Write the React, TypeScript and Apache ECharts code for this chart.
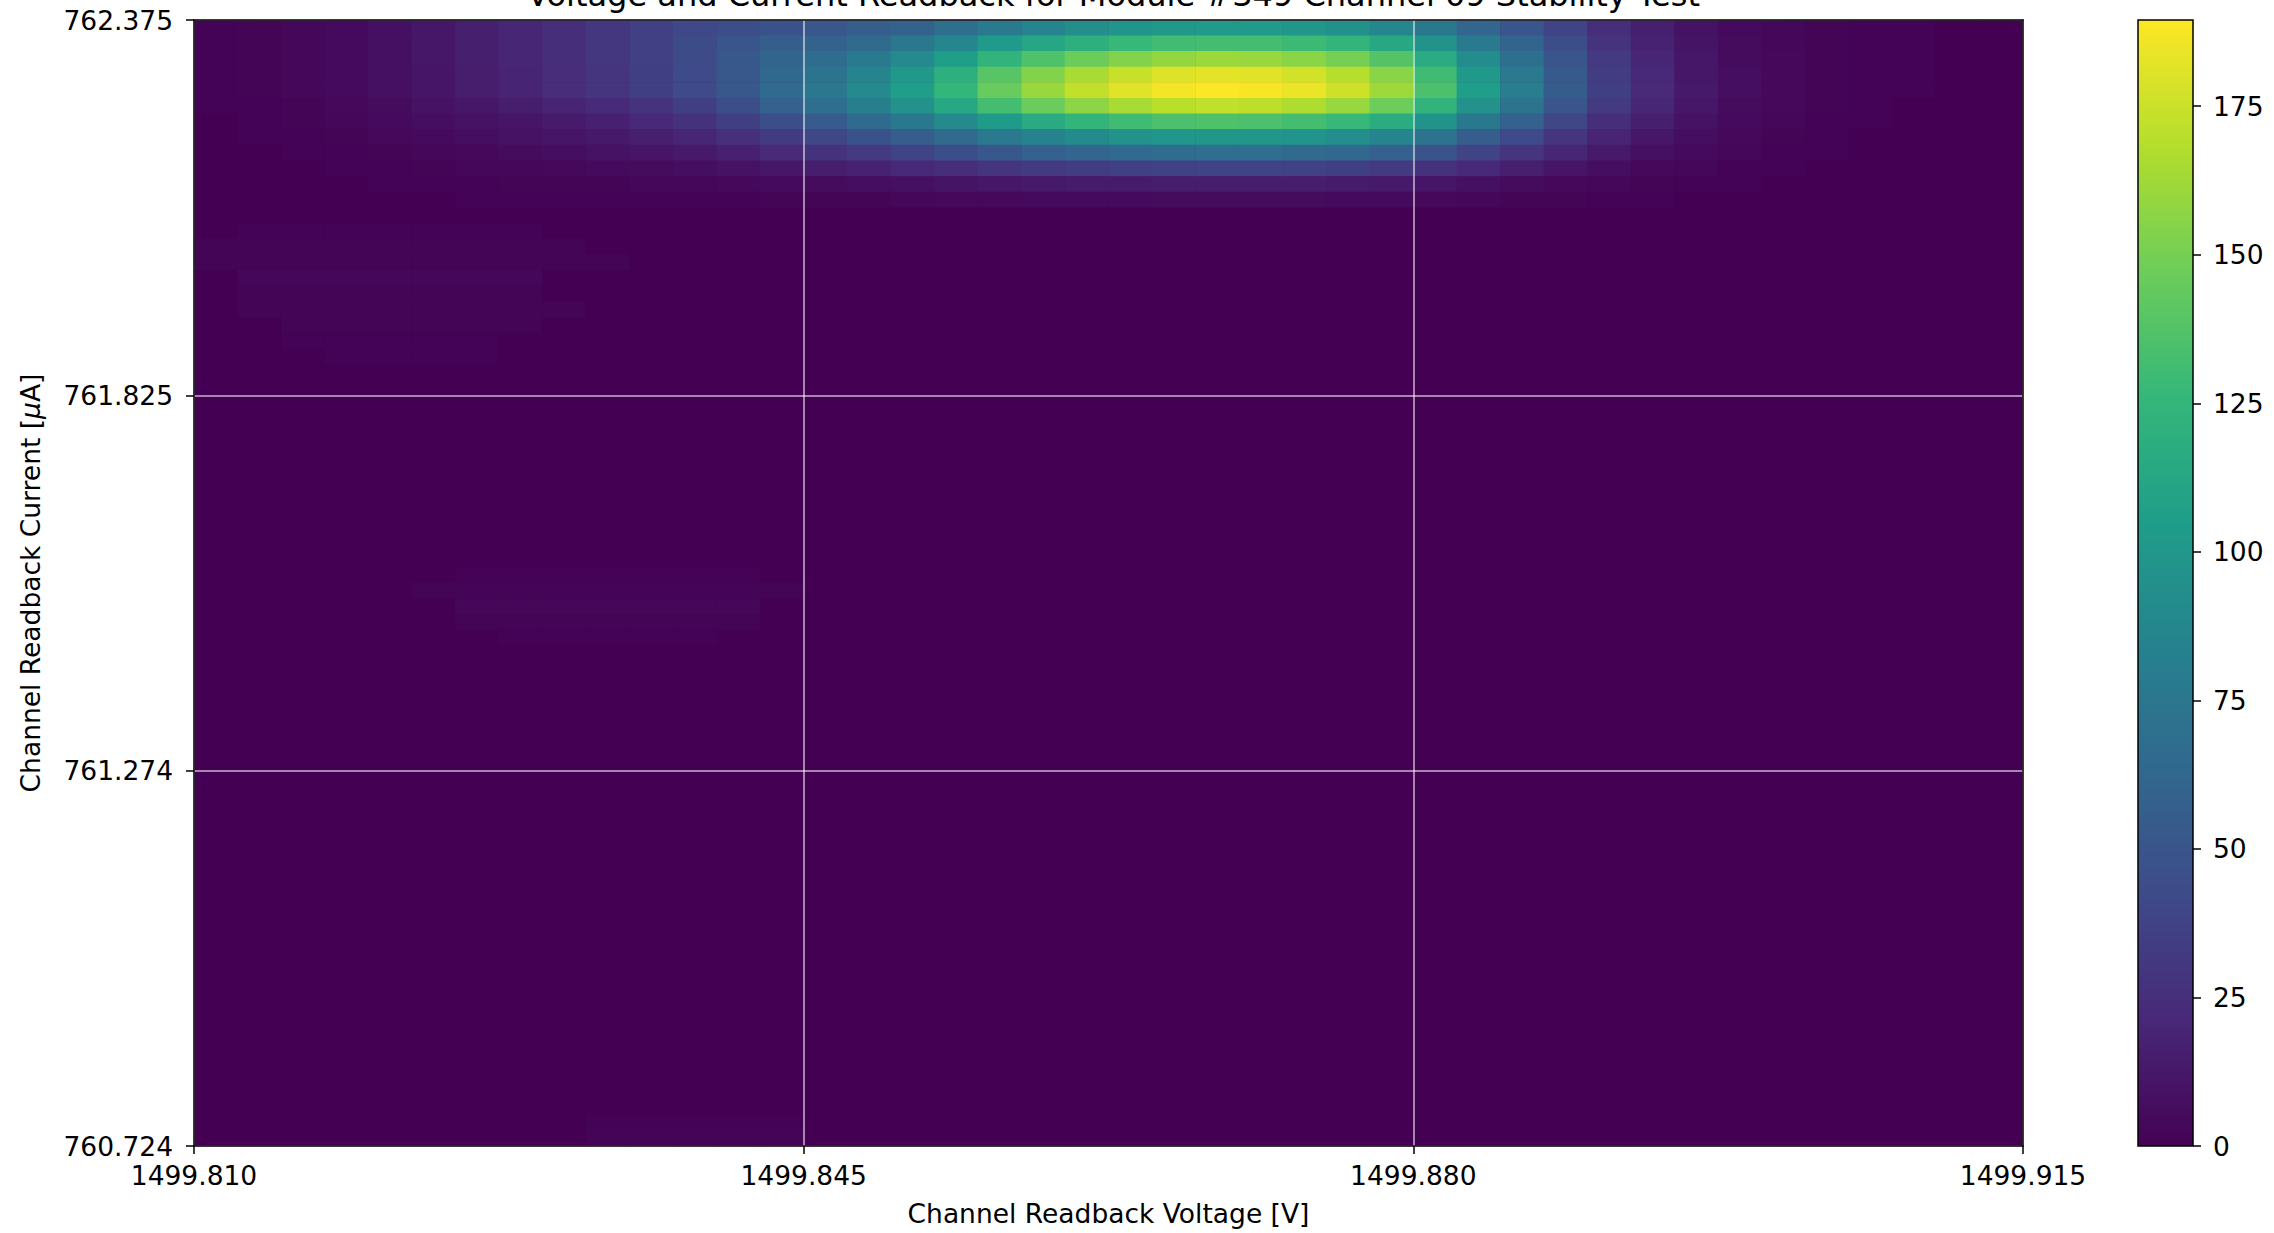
import React, { useEffect, useRef } from "react";
import * as echarts from "echarts";

const TITLE = "Voltage and Current Readback for Module #349 Channel 09 Stability Test";
const X_NAME = "Channel Readback Voltage [V]";
const Y_NAME = "Channel Readback Current [{mu|μ}A]";
const X_TICK_LABELS = ["1499.810", "1499.845", "1499.880", "1499.915"];
const Y_TICK_LABELS = ["760.724", "761.274", "761.825", "762.375"];
const CBAR_TICKS = [0, 25, 50, 75, 100, 125, 150, 175];
const COLOR_MAX = 189.5;
const N_COLS = 42;
const N_ROWS = 72;

const VIRIDIS = ["#440154", "#482878", "#3E4A89", "#31688E", "#26828E", "#1F9E89", "#35B779", "#6DCD59", "#B4DE2C", "#FDE725"];

// density rows, top of plot downward (42 voltage bins each)
const row00 = [1,2,3,5,8,12,16,20,25,30,36,41,45,48,51,56,60,69,78,86,93,98,101,102,102,99,95,87,76,62,50,38,25,16,9,5,3,2,1,1,0,0];
const row01 = [1,2,3,5,8,12,16,20,25,30,36,43,50,56,60,66,75,88,102,112,120,127,131,132,132,129,124,114,97,78,61,44,28,18,10,6,3,2,1,1,0,0];
const row02 = [1,2,3,5,8,12,16,20,25,30,36,43,52,61,67,78,90,106,123,136,146,154,159,161,160,156,150,138,116,92,70,50,32,20,12,6,4,2,1,1,0,0];
const row03 = [1,2,3,5,8,11,15,19,24,29,35,42,52,64,72,86,101,120,139,154,165,174,180,182,181,177,169,156,130,101,77,53,34,21,12,7,4,2,1,1,0,0];
const row04 = [1,2,3,5,8,11,15,19,24,29,35,42,52,65,75,90,105,125,145,160,172,181,187,189,188,184,176,162,135,105,80,55,35,22,13,7,4,2,1,1,0,0];
const row05 = [1,1,2,4,6,9,12,15,19,23,28,35,45,58,68,82,96,114,132,146,157,165,170,172,171,167,160,147,123,96,72,50,32,20,12,6,4,2,1,0,0,0];
const row06 = [0,1,2,3,5,7,9,11,14,17,21,27,35,45,54,65,76,90,104,115,124,130,135,136,135,132,127,117,97,76,58,40,25,16,9,5,3,1,1,0,0,0];
const row07 = [0,1,1,2,4,5,7,9,11,13,16,20,26,33,40,48,56,66,77,85,91,96,99,100,100,98,93,86,72,56,42,29,19,12,7,4,2,1,0,0,0,0];
const row08 = [0,0,1,1,2,3,4,6,7,9,11,13,17,22,27,32,38,45,52,58,62,65,67,68,68,66,63,58,49,38,29,20,13,8,5,3,1,1,0,0,0,0];
const row09 = [0,0,0,1,1,2,3,3,4,5,6,7,9,12,15,18,21,25,29,32,34,36,37,38,38,37,35,32,27,21,16,11,7,4,3,1,1,0,0,0,0,0];
const row10 = [0,0,0,0,1,1,1,2,2,2,3,3,4,5,6,7,8,10,12,13,14,14,15,15,15,15,14,13,11,8,6,4,3,2,1,1,0,0,0,0,0,0];
const row11 = [0,0,0,0,0,0,1,1,1,1,1,1,1,2,2,2,3,4,4,5,5,5,6,6,6,6,5,5,4,3,2,2,1,1,0,0,0,0,0,0,0,0];
const TOP_ROWS = [row00, row01, row02, row03, row04, row05, row06, row07, row08, row09, row10, row11];

// faint patches elsewhere: [rowFromTop, firstCol, lastCol, value]
const FAINT_RUNS = [
  [13, 1, 7, 1], [14, 0, 8, 2], [15, 0, 9, 2], [16, 1, 7, 3], [17, 1, 7, 2],
  [18, 1, 8, 2], [19, 2, 7, 2], [20, 2, 6, 1], [21, 3, 6, 1],
  [35, 6, 12, 1], [36, 5, 13, 2], [37, 6, 12, 3], [38, 6, 12, 2], [39, 7, 11, 1],
  [70, 9, 13, 1], [71, 9, 13, 2],
];

const FONT = "DejaVu Sans";
const W = 2274;
const H = 1233;
const PLOT = { left: 194, top: 20, width: 1829, height: 1126 };
const CBAR = { left: 2138, top: 20, width: 55, height: 1126 };

function buildCells() {
  const m: number[][] = [];
  for (let r = 0; r < N_ROWS; r++) m.push(new Array(N_COLS).fill(0));
  TOP_ROWS.forEach((row, r) => row.forEach((v, c) => { m[r][c] = v; }));
  FAINT_RUNS.forEach(([r, c0, c1, v]) => {
    for (let c = c0; c <= c1; c++) m[r][c] = Math.max(m[r][c], v);
  });
  const data: number[][] = [];
  for (let r = 0; r < N_ROWS; r++) {
    for (let c = 0; c < N_COLS; c++) data.push([c, N_ROWS - 1 - r, m[r][c]]);
  }
  return data;
}

export default function App() {
  const ref = useRef<HTMLDivElement>(null);
  useEffect(() => {
    document.body.style.margin = "0";
    document.body.style.overflow = "hidden";
    if (!ref.current) return;
    const chart = echarts.init(ref.current, undefined, { renderer: "svg" });
    const xCats = Array.from({ length: N_COLS }, (_, i) => String(i));
    const yCats = Array.from({ length: N_ROWS }, (_, i) => String(i));
    const textBase = { fontFamily: FONT, fontSize: 26.5, color: "#000" };
    const gridLine = { show: true, lineStyle: { color: "rgba(255,255,255,0.7)", width: 1.5 } };
    const blackLine = { show: true, lineStyle: { color: "#000", width: 1.5 } };
    const tick = { show: true, length: 8, inside: false, lineStyle: { color: "#000", width: 1.5 } };

    chart.setOption({
      animation: false,
      backgroundColor: "#fff",
      title: {
        text: TITLE,
        left: PLOT.left + PLOT.width / 2,
        textAlign: "center",
        top: -26,
        textStyle: { fontFamily: FONT, fontSize: 32, fontWeight: "normal", color: "#000" },
      },
      grid: [
        { ...PLOT, backgroundColor: "#440154", show: true, borderWidth: 0 },
        {
          ...CBAR,
          show: true,
          borderColor: "#000",
          borderWidth: 1.5,
          backgroundColor: new echarts.graphic.LinearGradient(
            0, 1, 0, 0,
            VIRIDIS.map((c, i) => ({ offset: i / (VIRIDIS.length - 1), color: c }))
          ),
        },
      ],
      xAxis: [
        { type: "category", gridIndex: 0, data: xCats, show: false, position: "bottom" },
        {
          type: "value", gridIndex: 0, min: 0, max: 3, interval: 1, position: "bottom", z: 5,
          axisLine: blackLine, axisTick: tick, splitLine: gridLine,
          axisLabel: { ...textBase, margin: 16, formatter: (v: number) => X_TICK_LABELS[Math.round(v)] },
          name: X_NAME, nameLocation: "middle", nameGap: 54,
          nameTextStyle: { ...textBase },
        },
        {
          type: "value", gridIndex: 0, min: 0, max: 1, position: "top", z: 6,
          axisLine: blackLine, axisTick: { show: false }, axisLabel: { show: false }, splitLine: { show: false },
        },
        { type: "category", gridIndex: 1, data: [""], show: false },
      ],
      yAxis: [
        { type: "category", gridIndex: 0, data: yCats, show: false, position: "left" },
        {
          type: "value", gridIndex: 0, min: 0, max: 3, interval: 1, position: "left", z: 5,
          axisLine: blackLine, axisTick: tick, splitLine: gridLine,
          axisLabel: { ...textBase, margin: 21, formatter: (v: number) => Y_TICK_LABELS[Math.round(v)] },
          name: Y_NAME, nameLocation: "middle", nameGap: 150, nameRotate: 90,
          nameTextStyle: { ...textBase, rich: { mu: { ...textBase, fontStyle: "italic" } } },
        },
        {
          type: "value", gridIndex: 0, min: 0, max: 1, position: "right", z: 6,
          axisLine: blackLine, axisTick: { show: false }, axisLabel: { show: false }, splitLine: { show: false },
        },
        {
          type: "value", gridIndex: 1, min: 0, max: COLOR_MAX, position: "right",
          axisLine: { show: false },
          axisTick: { ...tick, customValues: CBAR_TICKS },
          axisLabel: { ...textBase, margin: 20, customValues: CBAR_TICKS },
          splitLine: { show: false },
        },
      ],
      visualMap: {
        type: "continuous",
        show: false,
        min: 0,
        max: COLOR_MAX,
        seriesIndex: 0,
        dimension: 2,
        inRange: { color: VIRIDIS },
      },
      series: [
        {
          type: "heatmap",
          xAxisIndex: 0,
          yAxisIndex: 0,
          data: buildCells(),
          itemStyle: { borderWidth: 0 },
          emphasis: { disabled: true },
        },
      ],
    });
    return () => chart.dispose();
  }, []);
  return <div ref={ref} style={{ width: W, height: H }} />;
}
